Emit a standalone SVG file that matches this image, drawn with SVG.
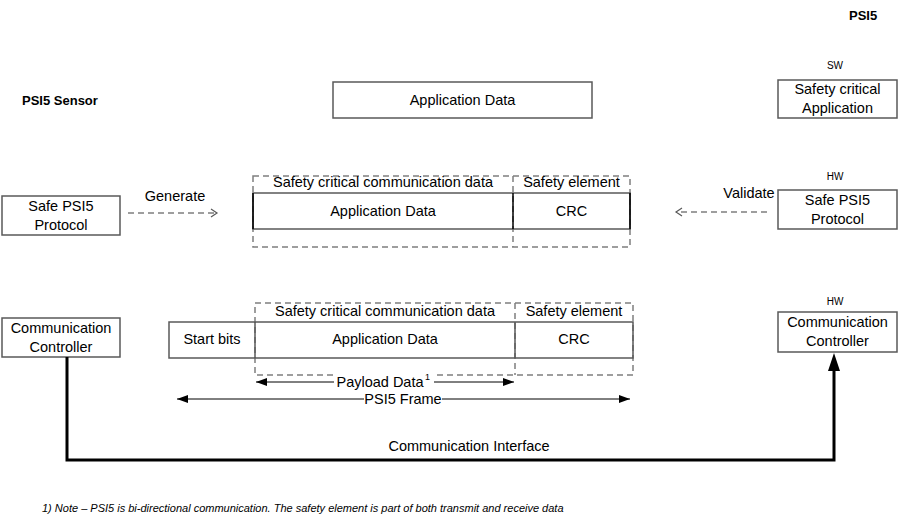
<svg xmlns="http://www.w3.org/2000/svg" width="898" height="522" viewBox="0 0 898 522">
<defs>
<style>
text{font-family:"Liberation Sans",Arial,sans-serif;fill:#000;}
.t{font-size:14.5px;text-anchor:middle;}
.s{font-size:10px;text-anchor:middle;}
.b{font-size:13px;font-weight:bold;}
.box{fill:#fff;stroke:#595959;stroke-width:1.5;}
.dash{fill:none;stroke:#7f7f7f;stroke-width:1.5;stroke-dasharray:6,4;}
.sol{fill:none;stroke:#595959;stroke-width:1.5;}
.thin{fill:none;stroke:#000;stroke-width:1;}
.thick{fill:none;stroke:#000;stroke-width:3;}
</style>
<marker id="open" markerWidth="10" markerHeight="10" refX="7" refY="5" orient="auto" markerUnits="userSpaceOnUse">
<path d="M1,1 L7,5 L1,9" fill="none" stroke="#595959" stroke-width="1.2"/>
</marker>
<marker id="fill" markerWidth="12" markerHeight="10" refX="11" refY="5" orient="auto-start-reverse" markerUnits="userSpaceOnUse">
<path d="M0,1 L11,5 L0,9 Z" fill="#000"/>
</marker>
</defs>

<text class="b" x="849" y="20">PSI5</text>
<text class="b" x="22" y="105">PSI5 Sensor</text>

<g id="app-data-top">
<rect class="box" x="333" y="82" width="259" height="36"/>
<text class="t" x="462.5" y="105">Application Data</text>
</g>

<g id="sw-app">
<text class="s" x="835" y="69">SW</text>
<rect class="box" x="778" y="80" width="119" height="38"/>
<text class="t" x="837.5" y="94">Safety critical</text>
<text class="t" x="837.5" y="113">Application</text>
</g>

<g id="safe-psi5-right">
<text class="s" x="835" y="180">HW</text>
<rect class="box" x="778" y="190" width="119" height="39"/>
<text class="t" x="837.5" y="205">Safe PSI5</text>
<text class="t" x="837.5" y="224">Protocol</text>
</g>

<g id="safe-psi5-left">
<rect class="box" x="2" y="196" width="118" height="39"/>
<text class="t" x="61" y="211">Safe PSI5</text>
<text class="t" x="61" y="230">Protocol</text>
</g>

<g id="msg-middle">
<rect class="dash" x="253" y="176" width="377" height="71"/>
<line class="dash" x1="513" y1="176" x2="513" y2="247"/>
<rect class="sol" x="253" y="193" width="377" height="36"/>
<line x1="513" y1="193" x2="513" y2="229" stroke="#000" stroke-width="1.5"/>
<line x1="253" y1="193" x2="253" y2="229" stroke="#000" stroke-width="1.5"/>
<line x1="630" y1="193" x2="630" y2="229" stroke="#000" stroke-width="1.5"/>
<text class="t" x="383" y="187">Safety critical communication data</text>
<text class="t" x="571.5" y="187">Safety element</text>
<text class="t" x="383" y="216">Application Data</text>
<text class="t" x="571.5" y="216">CRC</text>
</g>

<g id="comm-ctrl-left">
<rect class="box" x="2" y="318" width="118" height="39"/>
<text class="t" x="61" y="333">Communication</text>
<text class="t" x="61" y="352">Controller</text>
</g>

<g id="comm-ctrl-right">
<text class="s" x="835" y="305">HW</text>
<rect class="box" x="778" y="312" width="119" height="40"/>
<text class="t" x="837.5" y="327">Communication</text>
<text class="t" x="837.5" y="346">Controller</text>
</g>

<g id="frame">
<rect class="dash" x="255" y="303" width="378" height="72"/>
<line class="dash" x1="515" y1="303" x2="515" y2="375"/>
<rect class="sol" x="169" y="322" width="464" height="36"/>
<line x1="255" y1="322" x2="255" y2="358" stroke="#595959" stroke-width="1.5"/>
<line x1="515" y1="322" x2="515" y2="358" stroke="#595959" stroke-width="1.5"/>
<text class="t" x="385" y="316">Safety critical communication data</text>
<text class="t" x="574" y="316">Safety element</text>
<text class="t" x="212" y="344">Start bits</text>
<text class="t" x="385" y="344">Application Data</text>
<text class="t" x="574" y="344">CRC</text>
</g>

<g id="connectors">
<line class="dash" x1="128" y1="213" x2="217" y2="213" marker-end="url(#open)"/>
<text class="t" x="175" y="201">Generate</text>
<line class="dash" x1="767" y1="212" x2="676" y2="212" marker-end="url(#open)"/>
<text class="t" x="749" y="198">Validate</text>

<line class="thin" x1="256" y1="382" x2="514" y2="382" marker-start="url(#fill)" marker-end="url(#fill)"/>
<rect x="334" y="374" width="100" height="15" fill="#fff"/>
<text class="t" x="380" y="387">Payload Data</text>
<text x="425" y="380" style="font-size:9px">1</text>

<line class="thin" x1="177" y1="399" x2="630" y2="399" marker-start="url(#fill)" marker-end="url(#fill)"/>
<rect x="364" y="392" width="78" height="15" fill="#fff"/>
<text class="t" x="403" y="404">PSI5 Frame</text>

<polyline class="thick" points="67,357 67,460 834,460 834,370"/>
<path d="M828,371 L834,353 L840,371 Z" fill="#000"/>
<text class="t" x="469" y="451">Communication Interface</text>
</g>

<text x="42" y="512" style="font-size:11px;font-style:italic">1) Note – PSI5 is bi-directional communication. The safety element is part of both transmit and receive data</text>
</svg>
